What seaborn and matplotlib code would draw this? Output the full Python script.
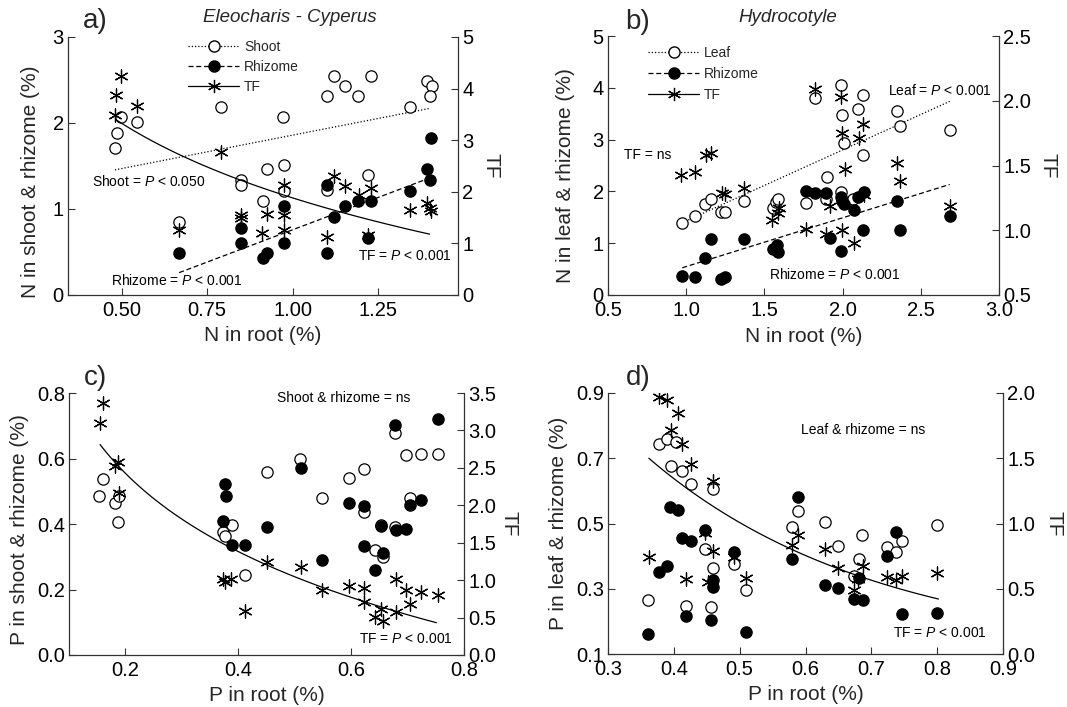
import numpy as np
import matplotlib
matplotlib.use("Agg")
import matplotlib.pyplot as plt
import seaborn as sns
from matplotlib.lines import Line2D

# ---------------- Panel a: Eleocharis - Cyperus, N ----------------
a_shoot_x = [0.48, 0.485, 0.497, 0.544, 0.79, 0.972, 0.85, 0.85, 0.924, 0.912, 0.974, 0.974,
             0.668, 1.099, 1.12, 1.153, 1.19, 1.23, 1.22, 1.099, 1.343, 1.391, 1.406, 1.40]
a_shoot_y = [1.71, 1.88, 2.07, 2.01, 2.19, 2.07, 1.34, 1.28, 1.46, 1.09, 1.51, 1.21,
             0.85, 2.31, 2.55, 2.43, 2.31, 2.55, 1.40, 1.22, 2.19, 2.49, 2.43, 2.31]
a_rhiz_x = [0.668, 0.85, 0.85, 0.912, 0.924, 0.974, 0.974, 1.099, 1.099, 1.12, 1.153, 1.19,
            1.23, 1.22, 1.343, 1.391, 1.40, 1.403]
a_rhiz_y = [0.485, 0.78, 0.60, 0.43, 0.485, 1.03, 0.60, 1.28, 0.49, 0.91, 1.03, 1.09,
            1.09, 0.66, 1.21, 1.46, 1.34, 1.82]
a_tf_x = [0.498, 0.483, 0.48, 0.546, 0.79, 0.668, 0.85, 0.85, 0.909, 0.925, 0.974, 0.974,
          0.974, 1.099, 1.12, 1.153, 1.193, 1.23, 1.22, 1.343, 1.391, 1.40, 1.403]
a_tf_y = [4.25, 3.88, 3.49, 3.67, 2.78, 1.26, 1.55, 1.49, 1.20, 1.57, 2.13, 1.55,
          1.26, 1.12, 2.30, 2.12, 1.94, 2.07, 1.16, 1.64, 1.78, 1.68, 1.62]
# fitted lines
a_shoot_fit = [1.082, 0.777, 0.48, 1.40]      # intercept, slope, x-from, x-to
a_rhiz_fit = [-0.744, 1.503, 0.668, 1.40]
a_tf_fit = [1.881, -2.086, 0.483, 1.40]        # tf = a + b*ln(x)

# ---------------- Panel b: Hydrocotyle, N ----------------
b_leaf_x = [0.975, 1.054, 1.118, 1.156, 1.22, 1.25, 1.367, 1.555, 1.576, 1.587, 1.768, 1.826,
            1.90, 1.895, 1.988, 1.996, 1.992, 2.009, 2.066, 2.10, 2.13, 2.13, 2.35, 2.365, 2.685]
b_leaf_y = [1.39, 1.52, 1.76, 1.85, 1.60, 1.60, 1.81, 1.67, 1.79, 1.86, 1.78, 3.81,
            2.28, 1.85, 4.05, 3.47, 1.99, 2.94, 1.85, 3.60, 3.87, 2.71, 3.56, 3.26, 3.19]
b_rhiz_x = [0.975, 1.054, 1.118, 1.156, 1.225, 1.25, 1.367, 1.555, 1.583, 1.59, 1.768, 1.826,
            1.892, 1.92, 1.988, 1.992, 1.998, 2.009, 2.073, 2.10, 2.135, 2.13, 2.35, 2.365, 2.685]
b_rhiz_y = [0.37, 0.34, 0.72, 1.08, 0.30, 0.34, 1.08, 0.88, 0.96, 0.83, 2.01, 1.96,
            1.96, 1.10, 1.89, 0.85, 1.81, 1.75, 1.65, 1.89, 1.99, 1.25, 1.81, 1.26, 1.52]
b_tf_x = [0.969, 1.054, 1.125, 1.16, 1.23, 1.25, 1.367, 1.55, 1.587, 1.593, 1.768, 1.826,
          1.92, 1.896, 1.988, 1.996, 1.996, 2.013, 2.073, 2.105, 2.13, 2.135, 2.35, 2.365, 2.685]
b_tf_y = [1.43, 1.45, 1.58, 1.60, 1.29, 1.28, 1.33, 1.08, 1.13, 1.17, 1.01, 2.09,
          1.19, 0.97, 2.03, 1.75, 1.00, 1.47, 0.90, 1.71, 1.82, 1.27, 1.52, 1.38, 1.19]
b_leaf_fit = [0.06, 1.37, 0.975, 2.685]
b_rhiz_fit = [-0.392, 0.941, 0.975, 2.685]

# ---------------- Panel c: Eleocharis - Cyperus, P ----------------
c_shoot_x = [0.1536, 0.160, 0.182, 0.188, 0.187, 0.373, 0.377, 0.388, 0.412, 0.450, 0.510, 0.549,
             0.596, 0.623, 0.623, 0.643, 0.656, 0.677, 0.678, 0.698, 0.704, 0.724, 0.754, 0.653]
c_shoot_y = [0.487, 0.536, 0.463, 0.487, 0.406, 0.376, 0.363, 0.396, 0.243, 0.560, 0.598, 0.480,
             0.541, 0.567, 0.437, 0.320, 0.299, 0.679, 0.391, 0.611, 0.479, 0.613, 0.613, 0.396]
c_rhiz_x = [0.377, 0.378, 0.373, 0.388, 0.412, 0.450, 0.511, 0.549, 0.596, 0.623, 0.623, 0.643,
            0.653, 0.656, 0.677, 0.679, 0.698, 0.704, 0.724, 0.754]
c_rhiz_y = [0.523, 0.487, 0.408, 0.337, 0.335, 0.392, 0.570, 0.290, 0.464, 0.455, 0.332, 0.260,
            0.395, 0.311, 0.702, 0.382, 0.386, 0.459, 0.472, 0.721]
c_tf_x = [0.160, 0.155, 0.187, 0.182, 0.188, 0.373, 0.377, 0.387, 0.412, 0.450, 0.511, 0.549,
          0.596, 0.623, 0.623, 0.643, 0.653, 0.656, 0.679, 0.679, 0.698, 0.704, 0.724, 0.754]
c_tf_y = [3.36, 3.10, 2.58, 2.53, 2.16, 1.01, 0.97, 1.01, 0.59, 1.24, 1.18, 0.87,
          0.92, 0.89, 0.71, 0.51, 0.61, 0.46, 1.01, 0.57, 0.87, 0.68, 0.84, 0.80]
c_tf_fit = [0.0, -1.508, 0.155, 0.751]         # tf = a + b*ln(x)

# ---------------- Panel d: Hydrocotyle, P ----------------
d_leaf_x = [0.361, 0.377, 0.389, 0.404, 0.395, 0.412, 0.426, 0.418, 0.447, 0.460, 0.459, 0.457,
            0.492, 0.509, 0.580, 0.588, 0.630, 0.650, 0.673, 0.681, 0.686, 0.724, 0.738, 0.747, 0.800]
d_leaf_y = [0.267, 0.744, 0.759, 0.749, 0.677, 0.661, 0.621, 0.246, 0.422, 0.363, 0.606, 0.243,
            0.376, 0.297, 0.488, 0.537, 0.506, 0.432, 0.340, 0.391, 0.465, 0.427, 0.414, 0.447, 0.496]
d_rhiz_x = [0.361, 0.377, 0.390, 0.394, 0.406, 0.412, 0.426, 0.419, 0.448, 0.456, 0.460, 0.460,
            0.492, 0.509, 0.580, 0.588, 0.630, 0.649, 0.673, 0.681, 0.687, 0.724, 0.737, 0.747, 0.800]
d_rhiz_y = [0.161, 0.352, 0.371, 0.552, 0.541, 0.455, 0.447, 0.215, 0.481, 0.205, 0.328, 0.304,
            0.414, 0.166, 0.391, 0.580, 0.311, 0.301, 0.269, 0.332, 0.267, 0.401, 0.475, 0.223, 0.225]
d_tf_x = [0.362, 0.377, 0.390, 0.406, 0.396, 0.412, 0.426, 0.418, 0.447, 0.460, 0.460, 0.452,
          0.492, 0.509, 0.580, 0.589, 0.630, 0.649, 0.673, 0.680, 0.687, 0.724, 0.738, 0.747, 0.800]
d_tf_y = [0.746, 1.967, 1.946, 1.847, 1.719, 1.609, 1.456, 0.575, 0.927, 0.792, 1.328, 0.549,
          0.741, 0.580, 0.838, 0.914, 0.805, 0.659, 0.493, 0.575, 0.672, 0.593, 0.570, 0.600, 0.621]
d_tf_fit = [4.264, -2.886, 0.362, 0.802]       # tf = a * exp(b*x)

# ---------------- style ----------------
sns.set_theme(style="ticks")
plt.rcParams['font.family'] = ['Liberation Sans', 'DejaVu Sans']
plt.rcParams['mathtext.fontset'] = 'custom'
plt.rcParams['mathtext.rm'] = 'Liberation Sans'
plt.rcParams['mathtext.it'] = 'Liberation Sans:italic'

W, H = 1067, 707
fig = plt.figure(figsize=(W / 100, H / 100), dpi=100)
fig.patch.set_facecolor('white')

DOT = (0, (1, 1.6))
DASH = (0, (4, 2.2))
SPINE = '#333333'
MS_C = 66
MS_A = 90
ANN = 10
TICK = 14.5
LAB = 15


def make_axes(l, r, t, b):
    return fig.add_axes([l / W, 1 - b / H, (r - l) / W, (b - t) / H])


def style(ax, ax2):
    for a in (ax, ax2):
        a.set_facecolor('none')
        for s in a.spines.values():
            s.set_color(SPINE)
            s.set_linewidth(0.9)
        a.spines['top'].set_visible(False)
    ax.spines['right'].set_visible(False)
    ax2.spines['left'].set_visible(False)
    ax2.spines['bottom'].set_visible(False)
    ax.tick_params(axis='x', direction='in', length=5, width=0.8, colors=SPINE,
                   labelcolor='black', labelsize=TICK, pad=4, top=False)
    ax.tick_params(axis='y', direction='in', length=5, width=0.8, colors=SPINE,
                   labelcolor='black', labelsize=TICK, pad=3, right=False)
    ax2.tick_params(axis='y', direction='in', length=5, width=0.8, colors=SPINE,
                    labelcolor='black', labelsize=TICK, pad=3)


def pts(ax, x, y, kind):
    if kind == 'open':
        sns.scatterplot(x=x, y=y, ax=ax, marker='o', s=MS_C, color='white',
                        edgecolor='black', linewidth=0.9, zorder=3)
    elif kind == 'filled':
        sns.scatterplot(x=x, y=y, ax=ax, marker='o', s=MS_C, color='black',
                        edgecolor='black', linewidth=0.9, zorder=3)
    else:
        sns.scatterplot(x=x, y=y, ax=ax, marker=(6, 2, 0), s=MS_A, color='black',
                        linewidth=0.9, zorder=4)


def lin(ax, fit, ls):
    xs = np.linspace(fit[2], fit[3], 60)
    sns.lineplot(x=xs, y=fit[0] + fit[1] * xs, ax=ax, color='black', linewidth=0.9,
                 linestyle=ls, estimator=None, sort=False, zorder=2)


def logfit(ax, fit):
    xs = np.linspace(fit[2], fit[3], 120)
    sns.lineplot(x=xs, y=fit[0] + fit[1] * np.log(xs), ax=ax, color='black', linewidth=0.9,
                 estimator=None, sort=False, zorder=2)


def expfit(ax, fit):
    xs = np.linspace(fit[2], fit[3], 120)
    sns.lineplot(x=xs, y=fit[0] * np.exp(fit[1] * xs), ax=ax, color='black', linewidth=0.9,
                 estimator=None, sort=False, zorder=2)


def legend(names, x_px, y_px, spacing):
    h = [Line2D([0], [0], color='black', lw=0.9, linestyle=DOT, marker='o', markersize=8,
                markerfacecolor='white', markeredgecolor='black'),
         Line2D([0], [0], color='black', lw=0.9, linestyle=DASH, marker='o', markersize=8,
                markerfacecolor='black', markeredgecolor='black'),
         Line2D([0], [0], color='black', lw=0.9, linestyle='-', marker=(6, 2, 0), markersize=9.5,
                markeredgewidth=0.9)]
    fig.legend(h, names, loc='upper left', bbox_to_anchor=(x_px / W, 1 - y_px / H),
               frameon=False, fontsize=10, handlelength=3.7, handletextpad=0.35,
               labelspacing=spacing, borderpad=0, borderaxespad=0, numpoints=1)


def ann(ax, x, y, s, ha='left'):
    ax.text(x, y, s, fontsize=ANN, ha=ha, va='center', color='black', zorder=5)


def labels(ax, ax2, xl, yl, xly, ylx, yly, tfx):
    ax.set_xlabel(xl, fontsize=LAB)
    ax.set_ylabel(yl, fontsize=LAB)
    ax2.set_ylabel('TF', fontsize=LAB, rotation=270, va='center')
    ax.xaxis.set_label_coords(0.5, xly)
    ax.yaxis.set_label_coords(ylx, yly)
    ax2.yaxis.set_label_coords(tfx, 0.5)


# ---------------- Panel a ----------------
ax = make_axes(68, 458, 37, 295)
ax2 = ax.twinx()
pts(ax, a_shoot_x, a_shoot_y, 'open')
pts(ax, a_rhiz_x, a_rhiz_y, 'filled')
lin(ax, a_shoot_fit, DOT)
lin(ax, a_rhiz_fit, DASH)
pts(ax2, a_tf_x, a_tf_y, 'tf')
logfit(ax2, a_tf_fit)
ax.set_xlim(0.343, 1.483)
ax.set_ylim(0, 3)
ax2.set_ylim(0, 5)
ax.set_xticks([0.5, 0.75, 1.0, 1.25])
ax.set_xticklabels(['0.50', '0.75', '1.00', '1.25'])
ax.set_yticks([0, 1, 2, 3])
ax2.set_yticks([0, 1, 2, 3, 4, 5])
style(ax, ax2)
labels(ax, ax2, 'N in root (%)', 'N in shoot & rhizome (%)', -0.122, -0.072, 0.44, 1.085)
ann(ax, 0.412, 1.32, 'Shoot = $P$ < 0.050')
ann(ax, 0.469, 0.163, 'Rhizome = $P$ < 0.001')
ann(ax, 1.466, 0.454, 'TF = $P$ < 0.001', ha='right')
legend(['Shoot', 'Rhizome', 'TF'], 188, 40, 0.42)
fig.text(83 / W, 1 - 21 / H, 'a)', fontsize=20, ha='left', va='center')
fig.text(290 / W, 1 - 18 / H, 'Eleocharis - Cyperus', fontsize=13.5, style='italic',
         ha='center', va='center')

# ---------------- Panel b ----------------
ax = make_axes(608, 999, 36, 295)
ax2 = ax.twinx()
pts(ax, b_leaf_x, b_leaf_y, 'open')
pts(ax, b_rhiz_x, b_rhiz_y, 'filled')
lin(ax, b_leaf_fit, DOT)
lin(ax, b_rhiz_fit, DASH)
pts(ax2, b_tf_x, b_tf_y, 'tf')
ax.set_xlim(0.5, 3.0)
ax.set_ylim(0, 5)
ax2.set_ylim(0.5, 2.5)
ax.set_xticks([0.5, 1.0, 1.5, 2.0, 2.5, 3.0])
ax.set_xticklabels(['0.5', '1.0', '1.5', '2.0', '2.5', '3.0'])
ax.set_yticks([0, 1, 2, 3, 4, 5])
ax2.set_yticks([0.5, 1.0, 1.5, 2.0, 2.5])
ax2.set_yticklabels(['0.5', '1.0', '1.5', '2.0', '2.5'])
style(ax, ax2)
labels(ax, ax2, 'N in root (%)', 'N in leaf & rhizome (%)', -0.122, -0.084, 0.46, 1.125)
ann(ax, 2.29, 3.94, 'Leaf = $P$ < 0.001')
ann(ax, 1.529, 0.40, 'Rhizome = $P$ < 0.001')
ann(ax, 0.602, 2.71, 'TF = ns')
legend(['Leaf', 'Rhizome', 'TF'], 648, 46, 0.5)
fig.text(625 / W, 1 - 22 / H, 'b)', fontsize=20, ha='left', va='center')
fig.text(788 / W, 1 - 18 / H, 'Hydrocotyle', fontsize=13.5, style='italic',
         ha='center', va='center')

# ---------------- Panel c ----------------
ax = make_axes(69, 464, 393, 655)
ax2 = ax.twinx()
pts(ax, c_shoot_x, c_shoot_y, 'open')
pts(ax, c_rhiz_x, c_rhiz_y, 'filled')
pts(ax2, c_tf_x, c_tf_y, 'tf')
logfit(ax2, c_tf_fit)
ax.set_xlim(0.1, 0.8)
ax.set_ylim(0, 0.8)
ax2.set_ylim(0, 3.5)
ax.set_xticks([0.2, 0.4, 0.6, 0.8])
ax.set_xticklabels(['0.2', '0.4', '0.6', '0.8'])
ax.set_yticks([0.0, 0.2, 0.4, 0.6, 0.8])
ax.set_yticklabels(['0.0', '0.2', '0.4', '0.6', '0.8'])
ax2.set_yticks([0, 0.5, 1.0, 1.5, 2.0, 2.5, 3.0, 3.5])
ax2.set_yticklabels(['0.0', '0.5', '1.0', '1.5', '2.0', '2.5', '3.0', '3.5'])
style(ax, ax2)
labels(ax, ax2, 'P in root (%)', 'P in shoot & rhizome (%)', -0.12, -0.101, 0.48, 1.115)
ann(ax, 0.586, 0.784, 'Shoot & rhizome = ns', ha='center')
ann(ax, 0.780, 0.048, 'TF = $P$ < 0.001', ha='right')
fig.text(84 / W, 1 - 378 / H, 'c)', fontsize=20, ha='left', va='center')

# ---------------- Panel d ----------------
ax = make_axes(608, 1003, 393, 654)
ax2 = ax.twinx()
pts(ax, d_leaf_x, d_leaf_y, 'open')
pts(ax, d_rhiz_x, d_rhiz_y, 'filled')
pts(ax2, d_tf_x, d_tf_y, 'tf')
expfit(ax2, d_tf_fit)
ax.set_xlim(0.3, 0.9)
ax.set_ylim(0.1, 0.9)
ax2.set_ylim(0, 2.0)
ax.set_xticks([0.3, 0.4, 0.5, 0.6, 0.7, 0.8, 0.9])
ax.set_xticklabels(['0.3', '0.4', '0.5', '0.6', '0.7', '0.8', '0.9'])
ax.set_yticks([0.1, 0.3, 0.5, 0.7, 0.9])
ax.set_yticklabels(['0.1', '0.3', '0.5', '0.7', '0.9'])
ax2.set_yticks([0, 0.5, 1.0, 1.5, 2.0])
ax2.set_yticklabels(['0.0', '0.5', '1.0', '1.5', '2.0'])
style(ax, ax2)
labels(ax, ax2, 'P in root (%)', 'P in leaf & rhizome (%)', -0.12, -0.101, 0.5, 1.13)
ann(ax, 0.687, 0.788, 'Leaf & rhizome = ns', ha='center')
ann(ax, 0.875, 0.164, 'TF = $P$ < 0.001', ha='right')
fig.text(626 / W, 1 - 378 / H, 'd)', fontsize=20, ha='left', va='center')

fig.savefig('out.png', dpi=100, facecolor='white')
